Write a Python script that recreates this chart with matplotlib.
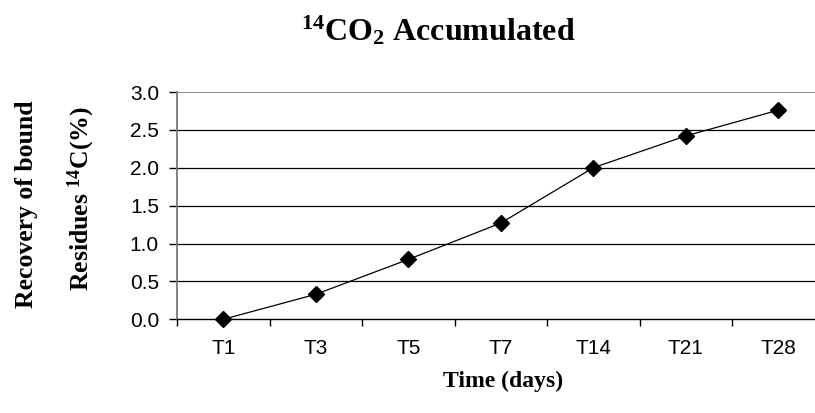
import numpy as np
import matplotlib
matplotlib.use("Agg")
import matplotlib.pyplot as plt

# datos
dias = ["T1", "T3", "T5", "T7", "T14", "T21", "T28"]
co2_acum = [0.0, 0.33, 0.79, 1.27, 2.0, 2.42, 2.76]
y_ticks = [0.0, 0.5, 1.0, 1.5, 2.0, 2.5, 3.0]

# superindices en la misma fuente serif que los titulos
plt.rcParams["mathtext.fontset"] = "custom"
plt.rcParams["mathtext.rm"] = "Liberation Serif:bold"
plt.rcParams["mathtext.bf"] = "Liberation Serif:bold"
plt.rcParams["mathtext.it"] = "Liberation Serif:bold"

W, H = 815, 413
fig = plt.figure(figsize=(W / 100, H / 100), dpi=100)
fig.patch.set_facecolor("white")

# eje: izquierda en x=177 px, 0.0 en y=319, 3.0 en y=92 (el grafico original esta recortado a la derecha)
ax = fig.add_axes([177 / W, (H - 319.3) / H, (W - 177) / W, (319.3 - 92) / H])
paso = 92.5  # px por categoria
ax.set_xlim(-0.5, -0.5 + (W - 177) / paso)
ax.set_ylim(0, 3.0)

x = np.arange(len(dias))
ax.plot(x, co2_acum, color="black", linewidth=0.9, marker="D", markersize=8,
        markerfacecolor="black", markeredgecolor="black", zorder=5, clip_on=False)

# lineas de grilla horizontales
for yv in y_ticks[1:-1]:
    ax.axhline(yv, color="black", linewidth=0.9, zorder=1)
ax.axhline(3.0, color="#777777", linewidth=1.2, zorder=1)

for s in ["top", "right"]:
    ax.spines[s].set_visible(False)
ax.spines["left"].set_color("#777777")
ax.spines["left"].set_linewidth(1.3)
ax.spines["bottom"].set_color("black")
ax.spines["bottom"].set_linewidth(1.0)

ax.set_yticks(y_ticks)
ax.set_yticklabels([f"{v:.1f}" for v in y_ticks], fontfamily="Liberation Sans", fontsize=15)
ax.tick_params(axis="y", direction="out", length=6, width=1, pad=7, colors="black")

# ticks en los limites de categoria, etiquetas centradas
ax.set_xticks(np.arange(-0.5, 6.5, 1.0))
ax.set_xticklabels([])
ax.set_xticks(x, minor=True)
ax.set_xticklabels(dias, minor=True, fontfamily="Liberation Sans", fontsize=15)
ax.tick_params(axis="x", which="major", direction="out", length=5, width=1)
ax.tick_params(axis="x", which="minor", length=0, pad=14)

# textos
fig.text(438 / W, 1 - 31 / H, r"$^{14}$CO$_{2}$ Accumulated",
         ha="center", va="center", fontfamily="Liberation Serif", fontweight="bold", fontsize=23)
fig.text(26 / W, 1 - 204 / H, "Recovery of bound", rotation=90, ha="center", va="center",
         fontfamily="Liberation Serif", fontweight="bold", fontsize=18.5)
fig.text(81 / W, 1 - 199 / H, r"Residues $^{14}$C(%)", rotation=90, ha="center", va="center",
         fontfamily="Liberation Serif", fontweight="bold", fontsize=18.5)
fig.text(503 / W, 1 - 381 / H, "Time (days)", ha="center", va="center",
         fontfamily="Liberation Serif", fontweight="bold", fontsize=17)

fig.savefig("out.png", dpi=100)
